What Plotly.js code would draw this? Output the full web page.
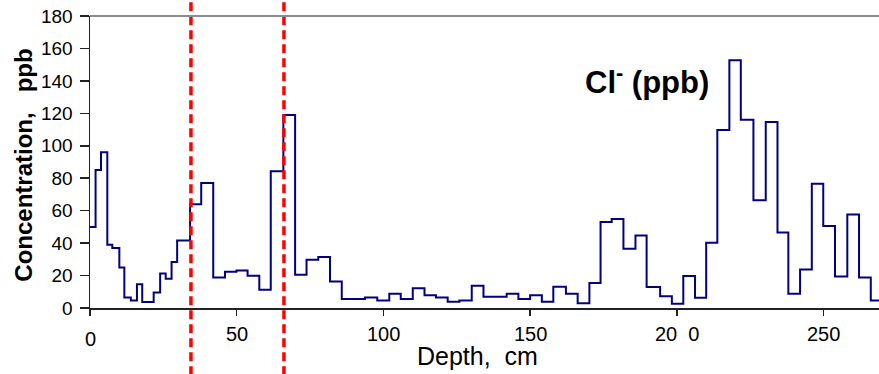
<!DOCTYPE html>
<html>
<head>
<meta charset="utf-8">
<script src="https://cdn.plot.ly/plotly-3.0.1.min.js"></script>
<style>html,body{margin:0;padding:0;background:#fff;}#chart{width:879px;height:374px;}</style>
</head>
<body>
<div id="chart"></div>
<script>
// Depth (cm) at the start of each sample interval
const depth = [0, 1.9, 3.75, 5.9, 7.6, 10, 11.7, 13.9, 16, 17.8,
  21.7, 23.9, 25.8, 27.8, 29.7, 34.1, 37.9, 42, 46, 49.9,
  53.7, 57.7, 61.6, 65.9, 69.9, 73.8, 77.8, 81.8, 85.8, 93.7,
  97.9, 102, 105.9, 110, 114, 117.9, 121.9, 125.9, 130.1, 134.1,
  142, 146, 150, 154, 157.9, 162.2, 166.2, 170.2, 174, 177.8,
  181.8, 185.9, 189.7, 194.3, 198.3, 202.2, 206.2, 210, 213.8, 217.9,
  221.8, 226.1, 230.3, 234.3, 238, 242, 246, 249.9, 253.9, 258.1,
  262.1, 266.1, 270];
// Cl- concentration (ppb)
const chloride = [50, 85, 96, 39, 37, 25, 6.5, 4.7, 14.7, 3.7,
  9.6, 21.3, 18, 28.3, 41.6, 64, 77, 18.8, 22.3, 23.1,
  19.9, 11.3, 84.3, 119, 20.5, 29.7, 31.5, 16.4, 5.5, 6.5,
  4.7, 8.8, 5.5, 12.1, 7.8, 6.5, 3.9, 4.7, 13.7, 6.9,
  8.8, 5.5, 7.8, 3.9, 13.1, 8.8, 3, 15.4, 53, 54.9,
  36.5, 44.7, 12.9, 7.2, 2.6, 19.7, 6.3, 40.2, 109.7, 152.7,
  116, 66.4, 114.6, 46.5, 8.8, 23.7, 76.6, 50.6, 19.4, 57.6,
  18.8, 4.7, 4.7];
// Red dashed boundary depths (cm)
const boundaries = [34.4, 66.1];
// Axis ticks
const xTickVals = [0, 50, 100, 150, 200, 250];
const xTickText = ["0", "50", "100", "150", "20\u00a0\u00a00", "250"];
const yTickVals = [0, 20, 40, 60, 80, 100, 120, 140, 160, 180];

const FONT = "Liberation Sans, Arial, sans-serif";

const trace = {
  x: depth, y: chloride, type: "scatter", mode: "lines",
  line: {shape: "hv", color: "#000080", width: 2},
  hoverinfo: "x+y"
};

const shapes = boundaries.map(b => ({
  type: "line", xref: "x", yref: "paper", x0: b, x1: b, y0: -0.23, y1: 1.06,
  line: {color: "#ff0000", width: 3.5, dash: "9px,5px"}
}));
shapes.push({type: "line", xref: "paper", yref: "paper", x0: 0, x1: 1, y0: 1, y1: 1,
  line: {color: "#8c8c8c", width: 2}});

const annotations = xTickVals.map((v, i) => ({
  x: v, xref: "x", yref: "paper", y: i === 0 ? -0.107 : -0.0895,
  text: xTickText[i], showarrow: false, xanchor: "center", yanchor: "middle",
  font: {family: FONT, size: 20, color: "#000"}
}));
annotations.push({
  xref: "paper", yref: "paper", x: 0.4905, y: -0.166, text: "Depth,\u00a0\u00a0cm",
  showarrow: false, xanchor: "center", yanchor: "middle",
  font: {family: FONT, size: 25, color: "#000"}
});
annotations.push({
  xref: "paper", yref: "paper", x: -0.084, y: 0.49, textangle: -90,
  text: "<b>Concentration,\u00a0\u00a0\u00a0ppb</b>", showarrow: false,
  xanchor: "center", yanchor: "middle",
  font: {family: FONT, size: 24, color: "#000"}
});
annotations.push({
  xref: "paper", yref: "paper", x: 0.706, y: 0.78,
  text: "<b>Cl<sup>-</sup> (ppb)</b>", showarrow: false,
  xanchor: "center", yanchor: "middle",
  font: {family: FONT, size: 31, color: "#000"}
});

const layout = {
  width: 879, height: 374,
  margin: {l: 90, r: 0, t: 16, b: 66, pad: 0},
  paper_bgcolor: "#fff", plot_bgcolor: "#fff",
  showlegend: false,
  xaxis: {
    range: [0, 268.9], showgrid: false, zeroline: false,
    showline: true, linecolor: "#222", linewidth: 1.5,
    ticks: "outside", ticklen: 6, tickcolor: "#222", tickwidth: 1.5,
    tickvals: xTickVals, showticklabels: false
  },
  yaxis: {
    range: [0, 180], showgrid: false, zeroline: false,
    showline: true, linecolor: "#222", linewidth: 1.5,
    ticks: "outside", ticklen: 9, tickcolor: "#222", tickwidth: 1.5,
    tickvals: yTickVals, ticklabelstandoff: 3,
    tickfont: {family: FONT, size: 19, color: "#000"}
  },
  shapes: shapes,
  annotations: annotations
};

Plotly.newPlot("chart", [trace], layout, {displayModeBar: false, staticPlot: true});
</script>
</body>
</html>
